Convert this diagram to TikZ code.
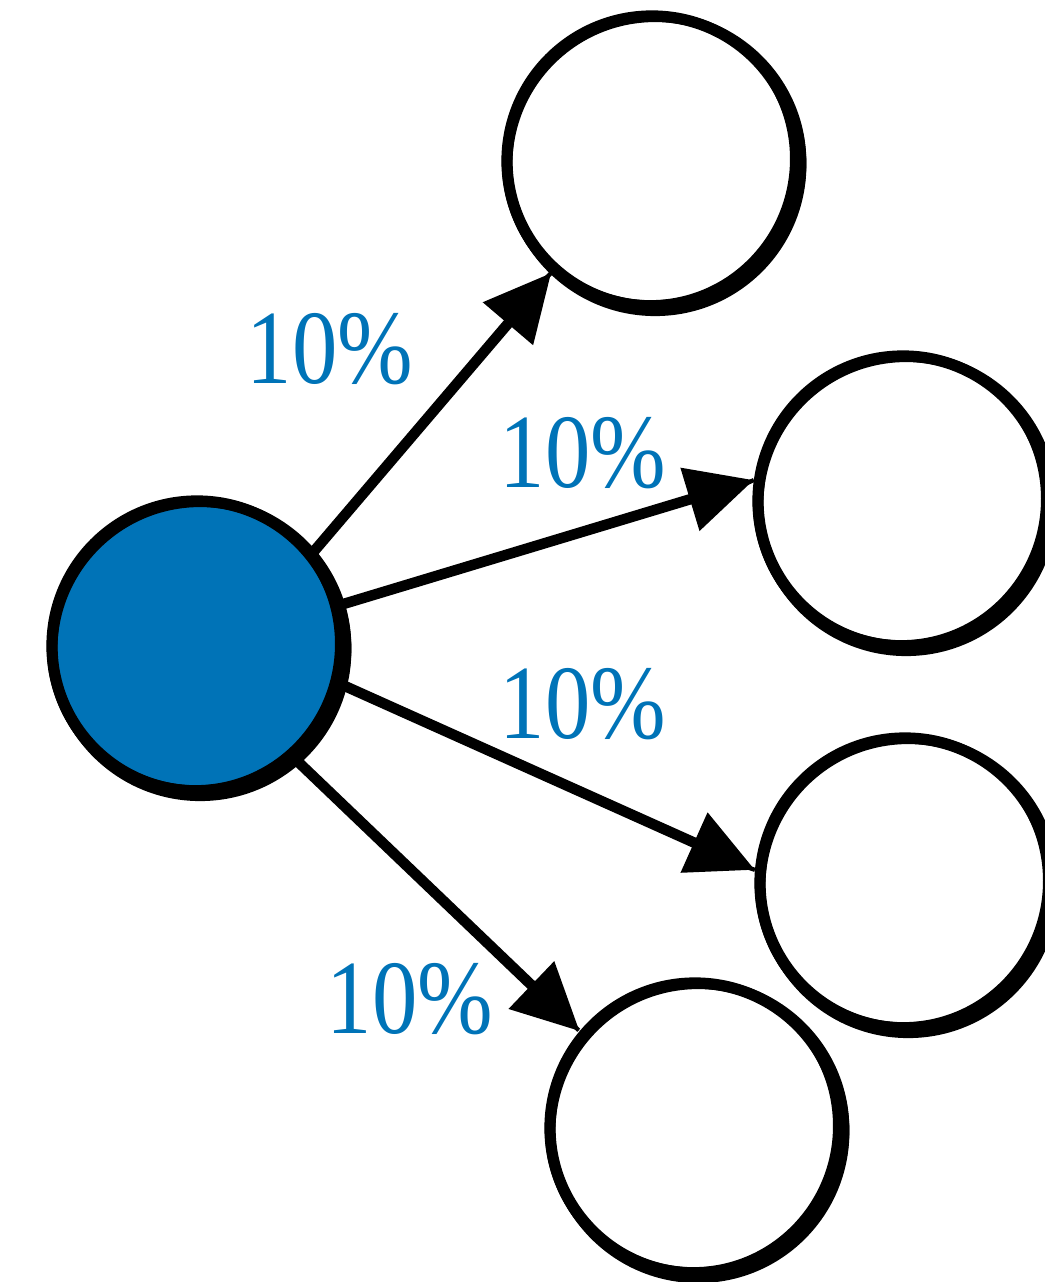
\documentclass[tikz,border=0pt]{standalone}
\usepackage{fontspec}
\setmainfont{Liberation Serif}
\usetikzlibrary{arrows.meta,decorations.pathmorphing}
\definecolor{nodeblue}{RGB}{0,115,183}
\newcommand\pctlabel{\scalebox{0.86}[1]{10\%}}
\tikzset{
  ring/.style={circle, draw=black, line width=3.2pt, minimum size=2.9cm, inner sep=0pt},
  sketch/.style={line width=1pt},
  link/.style={line width=3pt, -{Triangle[length=19pt,width=18pt]}},
  roughlink/.style={decorate, decoration={random steps, segment length=2pt, amplitude=0.5pt}, line width=1.2pt},
  pct/.style={text=nodeblue, font=\fontsize{30}{30}\selectfont, inner sep=0pt}
}
\begin{document}
\begin{tikzpicture}
\pgfmathsetseed{11}
\useasboundingbox (0,0) rectangle (10.44,-12.82);

% source and four target circles
\node[ring, fill=nodeblue] (src) at (1.97,-6.46) {};
\node[ring] (t1) at (6.52,-1.61) {};
\node[ring] (t2) at (9.03,-5.01) {};
\node[ring] (t3) at (9.05,-8.83) {};
\node[ring] (t4) at (6.95,-11.28) {};

% hand-drawn extra strokes around every circle
\foreach \n in {src,t1,t2,t3,t4}{
  \draw[sketch] ([xshift=-0.5pt,yshift=0.6pt]\n.center) circle[x radius=1.415cm, y radius=1.43cm];
  \draw[sketch] ([xshift=0.6pt,yshift=-0.4pt]\n.center) circle[x radius=1.505cm, y radius=1.49cm];
  \draw[line width=2.4pt] ([xshift=0.9pt,yshift=-1.1pt]\n.center) circle[radius=1.47cm];
}

% arrows
\draw[link] (src.39) -- (t1.228);
\draw[link] (src.16) -- (t2.172);
\draw[link] (src.-15) -- (t3.175);
\draw[link] (src.-49) -- (t4.140);
\draw[roughlink] (src.39) -- (t1.228);
\draw[roughlink] (src.16) -- (t2.172);
\draw[roughlink] (src.-15) -- (t3.175);
\draw[roughlink] (src.-49) -- (t4.140);

% percentage labels
\node[pct] (l1) at (3.30,-3.49) {\pctlabel};
\node[pct] (l2) at (5.83,-4.53) {\pctlabel};
\node[pct] (l3) at (5.83,-7.04) {\pctlabel};
\node[pct] (l4) at (4.10,-9.99) {\pctlabel};
\end{tikzpicture}
\end{document}
